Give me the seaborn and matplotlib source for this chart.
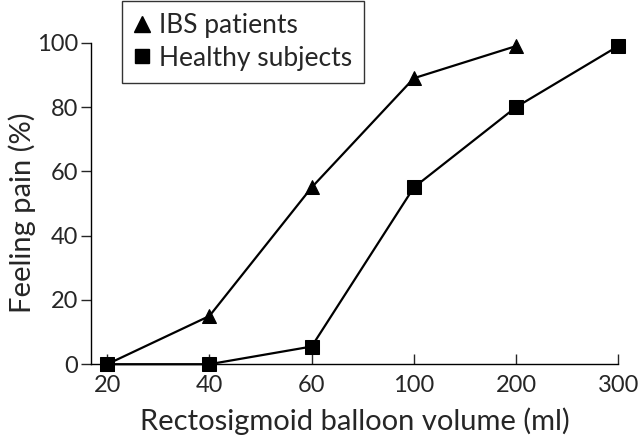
import numpy as np
import pandas as pd
import matplotlib
matplotlib.use('Agg')
import matplotlib.pyplot as plt
from matplotlib.lines import Line2D
import seaborn as sns

# Datos
volumes = ['20', '40', '60', '100', '200', '300']
ibs_pain = [0, 15, 55, 89, 99]
healthy_pain = [0, 0, 5.5, 55, 80, 99]

pos = np.arange(len(volumes))
df = pd.concat([
    pd.DataFrame({'pos': pos[:len(ibs_pain)], 'pain': ibs_pain, 'group': 'IBS patients'}),
    pd.DataFrame({'pos': pos, 'pain': healthy_pain, 'group': 'Healthy subjects'}),
])

sns.set_style('ticks')
plt.rcParams['font.family'] = ['Lato', 'DejaVu Sans']

fig = plt.figure(figsize=(6.4, 4.42), dpi=100)
ax = fig.add_axes([0.142, 0.176, 0.824, 0.727])

sns.lineplot(data=df, x='pos', y='pain', hue='group', style='group',
             markers={'IBS patients': '^', 'Healthy subjects': 's'},
             dashes=False, palette={'IBS patients': 'black', 'Healthy subjects': 'black'},
             markersize=10, markeredgecolor='black', linewidth=1.6,
             ax=ax, legend=False, clip_on=False, zorder=3)

ax.set_xlim(-0.16, 5)
ax.set_ylim(0, 100)
ax.set_xticks(pos)
ax.set_xticklabels(volumes)
ax.set_yticks([0, 20, 40, 60, 80, 100])
ax.tick_params(axis='x', direction='in', length=7, width=1, labelsize=17, pad=8)
ax.tick_params(axis='y', direction='out', length=7, width=1, labelsize=17, pad=2)
ax.set_xlabel('Rectosigmoid balloon volume (ml)', fontsize=21, labelpad=8)
ax.set_ylabel('Feeling pain (%)', fontsize=21)
ax.yaxis.set_label_coords(-0.105, 0.47)
sns.despine(ax=ax)
for sp in ['left', 'bottom']:
    ax.spines[sp].set_linewidth(1)
    ax.spines[sp].set_color('black')

# Leyenda
handles = [Line2D([], [], marker='^', color='black', linestyle='none', markersize=11),
           Line2D([], [], marker='s', color='black', linestyle='none', markersize=10)]
leg = fig.legend(handles, ['IBS patients', 'Healthy subjects'], loc='upper left',
                 bbox_to_anchor=(122 / 640, 0.998), fontsize=19, frameon=True,
                 fancybox=False, edgecolor='black', handlelength=0.6,
                 handletextpad=0.35, borderpad=0.45, labelspacing=0.3,
                 borderaxespad=0)
leg.get_frame().set_linewidth(1)

fig.savefig('out.png', dpi=100)
